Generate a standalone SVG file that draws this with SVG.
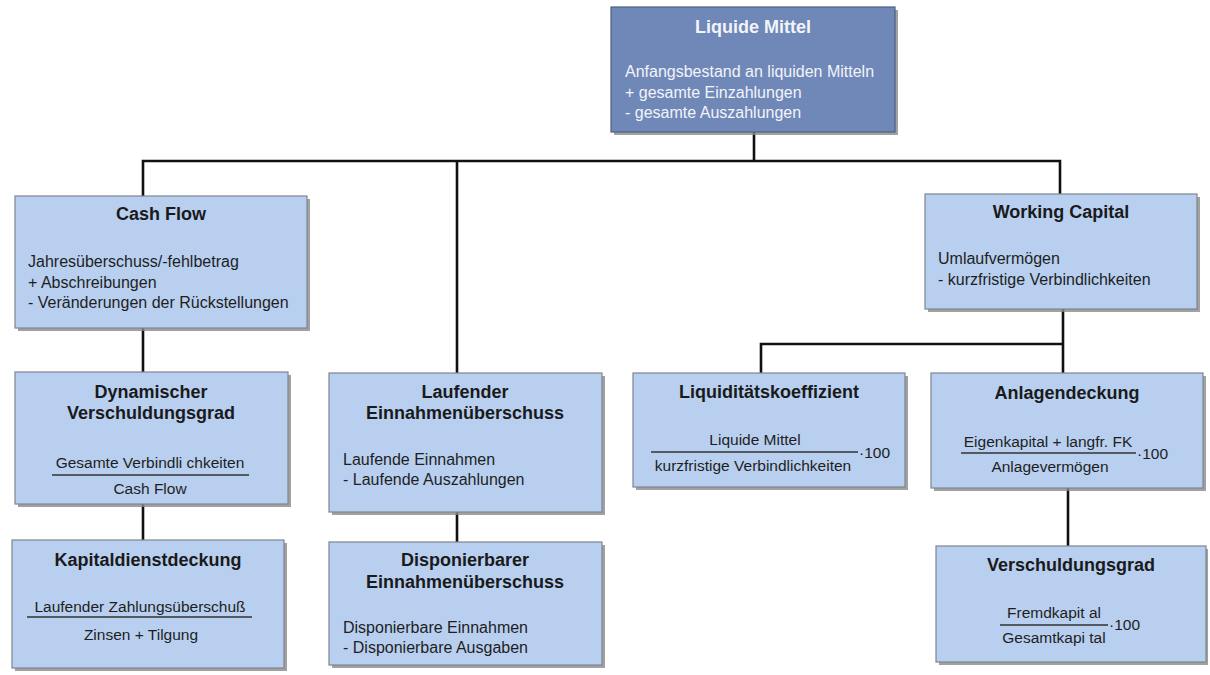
<svg xmlns="http://www.w3.org/2000/svg" width="1210" height="675" viewBox="0 0 1210 675">
  <defs>
    <style>
      .box { fill: #b8cff0; stroke: #7d8590; stroke-width: 1.2; }
      .top { fill: #6f88b8; stroke: #4f5f80; stroke-width: 1.2; }
      .shadow { fill: #8a8a8a; opacity: 0.8; }
      .title { font-family: "Liberation Sans", Arial, sans-serif; font-size: 18px; font-weight: bold; fill: #1a1a1a; text-anchor: middle; }
      .body { font-family: "Liberation Sans", Arial, sans-serif; font-size: 16px; fill: #1e1e1e; }
      .frac { font-family: "Liberation Sans", Arial, sans-serif; font-size: 15.5px; fill: #1e1e1e; text-anchor: middle; }
      .fac { font-family: "Liberation Sans", Arial, sans-serif; font-size: 15.5px; fill: #1e1e1e; }
      .light { fill: #f2f4f8; }
      .bar { stroke: #333; stroke-width: 1.6; }
      .link { stroke: #111; stroke-width: 2.6; fill: none; }
    </style>
  </defs>

  <rect width="1210" height="675" fill="#ffffff"/>

  <!-- connectors -->
  <g id="connectors">
    <path class="link" d="M754,132 V161"/>
    <path class="link" d="M143,196 V161 H1060 V194"/>
    <path class="link" d="M457,161 V373"/>
    <path class="link" d="M143,328 V372"/>
    <path class="link" d="M143,504 V540"/>
    <path class="link" d="M457,512 V542"/>
    <path class="link" d="M1063,309 V373"/>
    <path class="link" d="M761,373 V344 H1063"/>
    <path class="link" d="M1068,488 V546"/>
  </g>

  <!-- Liquide Mittel -->
  <g id="liquide-mittel">
    <rect class="shadow" x="614" y="10" width="284" height="125"/>
    <rect class="top" x="611" y="7" width="284" height="125"/>
    <text class="title light" x="753" y="33">Liquide Mittel</text>
    <text class="body light" x="625" y="77">Anfangsbestand an liquiden Mitteln</text>
    <text class="body light" x="625" y="98">+ gesamte Einzahlungen</text>
    <text class="body light" x="625" y="118">- gesamte Auszahlungen</text>
  </g>

  <!-- Cash Flow -->
  <g id="cash-flow">
    <rect class="shadow" x="18" y="199" width="292" height="132"/>
    <rect class="box" x="15" y="196" width="292" height="132"/>
    <text class="title" x="161" y="220">Cash Flow</text>
    <text class="body" x="28" y="267">Jahresüberschuss/-fehlbetrag</text>
    <text class="body" x="28" y="288">+ Abschreibungen</text>
    <text class="body" x="28" y="308">- Veränderungen der Rückstellungen</text>
  </g>

  <!-- Working Capital -->
  <g id="working-capital">
    <rect class="shadow" x="928" y="197" width="272" height="115"/>
    <rect class="box" x="925" y="194" width="272" height="115"/>
    <text class="title" x="1061" y="218">Working Capital</text>
    <text class="body" x="938" y="264">Umlaufvermögen</text>
    <text class="body" x="938" y="285">- kurzfristige Verbindlichkeiten</text>
  </g>

  <!-- Dynamischer Verschuldungsgrad -->
  <g id="dynamischer-verschuldungsgrad">
    <rect class="shadow" x="18" y="375" width="273" height="132"/>
    <rect class="box" x="15" y="372" width="273" height="132"/>
    <text class="title" x="151" y="398">Dynamischer</text>
    <text class="title" x="151" y="419">Verschuldungsgrad</text>
    <text class="frac" x="150" y="468">Gesamte Verbindli chkeiten</text>
    <line class="bar" x1="52" y1="475" x2="249" y2="475"/>
    <text class="frac" x="150" y="494">Cash Flow</text>
  </g>

  <!-- Kapitaldienstdeckung -->
  <g id="kapitaldienstdeckung">
    <rect class="shadow" x="15" y="543" width="272" height="128"/>
    <rect class="box" x="12" y="540" width="272" height="128"/>
    <text class="title" x="148" y="566">Kapitaldienstdeckung</text>
    <text class="frac" x="140" y="612">Laufender Zahlungsüberschuß</text>
    <line class="bar" x1="27" y1="617" x2="252" y2="617"/>
    <text class="frac" x="141" y="640">Zinsen + Tilgung</text>
  </g>

  <!-- Laufender Einnahmenüberschuss -->
  <g id="laufender-einnahmenueberschuss">
    <rect class="shadow" x="332" y="376" width="273" height="139"/>
    <rect class="box" x="329" y="373" width="273" height="139"/>
    <text class="title" x="465" y="398">Laufender</text>
    <text class="title" x="465" y="419">Einnahmenüberschuss</text>
    <text class="body" x="343" y="465">Laufende Einnahmen</text>
    <text class="body" x="343" y="485">- Laufende Auszahlungen</text>
  </g>

  <!-- Disponierbarer Einnahmenüberschuss -->
  <g id="disponierbarer-einnahmenueberschuss">
    <rect class="shadow" x="332" y="545" width="273" height="123"/>
    <rect class="box" x="329" y="542" width="273" height="123"/>
    <text class="title" x="465" y="566">Disponierbarer</text>
    <text class="title" x="465" y="588">Einnahmenüberschuss</text>
    <text class="body" x="343" y="633">Disponierbare Einnahmen</text>
    <text class="body" x="343" y="653">- Disponierbare Ausgaben</text>
  </g>

  <!-- Liquiditätskoeffizient -->
  <g id="liquiditaetskoeffizient">
    <rect class="shadow" x="636" y="376" width="272" height="114"/>
    <rect class="box" x="633" y="373" width="272" height="114"/>
    <text class="title" x="769" y="398">Liquiditätskoeffizient</text>
    <text class="frac" x="755" y="445">Liquide Mittel</text>
    <line class="bar" x1="651" y1="452" x2="858" y2="452"/>
    <text class="frac" x="753" y="471">kurzfristige Verbindlichkeiten</text>
    <text class="fac" x="859" y="458">·100</text>
  </g>

  <!-- Anlagendeckung -->
  <g id="anlagendeckung">
    <rect class="shadow" x="934" y="376" width="272" height="115"/>
    <rect class="box" x="931" y="373" width="272" height="115"/>
    <text class="title" x="1067" y="399">Anlagendeckung</text>
    <text class="frac" x="1048" y="447">Eigenkapital + langfr. FK</text>
    <line class="bar" x1="961" y1="453" x2="1136" y2="453"/>
    <text class="frac" x="1050" y="472">Anlagevermögen</text>
    <text class="fac" x="1137" y="459">·100</text>
  </g>

  <!-- Verschuldungsgrad -->
  <g id="verschuldungsgrad">
    <rect class="shadow" x="939" y="549" width="269" height="116"/>
    <rect class="box" x="936" y="546" width="270" height="116"/>
    <text class="title" x="1071" y="571">Verschuldungsgrad</text>
    <text class="frac" x="1054" y="618">Fremdkapit al</text>
    <line class="bar" x1="1000" y1="625" x2="1108" y2="625"/>
    <text class="frac" x="1054" y="643">Gesamtkapi tal</text>
    <text class="fac" x="1109" y="630">·100</text>
  </g>
</svg>
